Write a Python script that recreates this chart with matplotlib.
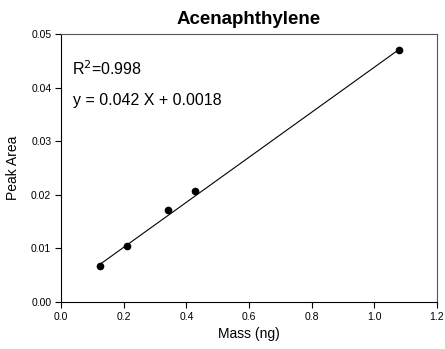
import matplotlib
matplotlib.use("Agg")
import matplotlib.pyplot as plt
import numpy as np

plt.rcParams['font.family'] = ['Liberation Sans', 'DejaVu Sans']

mass = [0.125, 0.21, 0.34, 0.428, 1.08]
peak_area = [0.00675, 0.0105, 0.0171, 0.0207, 0.0471]
slope = 0.042
intercept = 0.0018
r2_text = "R$^2$=0.998"
eq_text = "y = 0.042 X + 0.0018"
xticks = [0.0, 0.2, 0.4, 0.6, 0.8, 1.0, 1.2]
yticks = [0.00, 0.01, 0.02, 0.03, 0.04, 0.05]

fig = plt.figure(figsize=(4.45, 3.49), dpi=100)
ax = fig.add_axes([61/445, 1-302/349, (437-61)/445, (302-34)/349])

xl = np.array([min(mass), max(mass)])
ax.plot(xl, slope*xl + intercept, color='black', lw=0.8)
ax.plot(mass, peak_area, 'o', color='black', ms=4.5)

ax.set_xlim(0, 1.2)
ax.set_ylim(0, 0.05)
ax.set_xticks(xticks)
ax.set_xticklabels([f"{v:.1f}" for v in xticks])
ax.set_yticks(yticks)
ax.set_yticklabels([f"{v:.2f}" for v in yticks])
ax.tick_params(direction='out', length=4, width=0.8, labelsize=7.5, pad=3)
for s in ['left', 'bottom']:
    ax.spines[s].set_color('black')
    ax.spines[s].set_linewidth(0.8)
for s in ['top', 'right']:
    ax.spines[s].set_color('#555555')
    ax.spines[s].set_linewidth(0.8)

ax.set_xlabel("Mass (ng)", fontsize=10, labelpad=4)
ax.set_ylabel("Peak Area", fontsize=10, labelpad=8)
ax.set_title("Acenaphthylene", fontsize=13.5, fontweight='bold', pad=7)

ax.text(0.03, 0.87, r2_text, transform=ax.transAxes, fontsize=11.5, va='center')
ax.text(0.033, 0.75, eq_text, transform=ax.transAxes, fontsize=11.5, va='center')

fig.savefig("out.png", dpi=100)
